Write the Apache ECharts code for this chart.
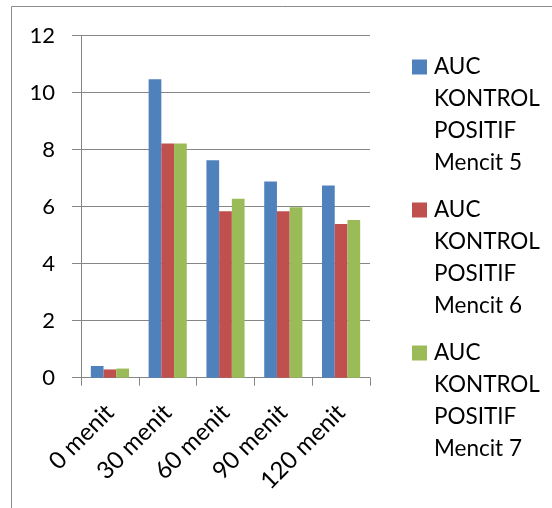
<!DOCTYPE html>
<html>
<head>
<meta charset="utf-8">
<script src="https://cdn.jsdelivr.net/npm/echarts@6/dist/echarts.min.js"></script>
<style>html,body{margin:0;padding:0;background:#fff}#c{width:552px;height:508px}</style>
</head>
<body>
<div id="c"></div>
<script>
var categories = ['0 menit', '30 menit', '60 menit', '90 menit', '120 menit'];
var seriesNames = ['AUC KONTROL POSITIF Mencit 5', 'AUC KONTROL POSITIF Mencit 6', 'AUC KONTROL POSITIF Mencit 7'];
var mencit5 = [0.41, 10.47, 7.63, 6.88, 6.74];
var mencit6 = [0.29, 8.22, 5.84, 5.84, 5.39];
var mencit7 = [0.32, 8.22, 6.28, 5.98, 5.53];
var yTicks = [0, 2, 4, 6, 8, 10, 12];
var colors = ['#4F81BD', '#C0504D', '#9BBB59'];

var FONT = 'Lato';
var chart = echarts.init(document.getElementById('c'), null, {renderer: 'canvas'});
var legendIcon = 'path://M0,0h15M0,8.5h15v15h-15zM0,128h15';
var dataSets = [mencit5, mencit6, mencit7];
chart.setOption({
  animation: false,
  backgroundColor: '#fff',
  textStyle: {fontFamily: FONT},
  graphic: [{
    type: 'rect', silent: true,
    shape: {x: 11.5, y: 6.5, width: 700, height: 700},
    style: {fill: 'none', stroke: '#8c8c8c', lineWidth: 1}
  }],
  grid: {left: 81, right: 182, top: 35.7, bottom: 130.3, containLabel: false},
  legend: {
    orient: 'vertical',
    left: 412, top: 51, padding: 0,
    itemWidth: 15, itemHeight: 128, itemGap: 15,
    icon: legendIcon,
    data: seriesNames,
    formatter: function (n) { return n.replace('AUC ', 'AUC\n').replace('KONTROL ', 'KONTROL\n').replace('POSITIF ', 'POSITIF\n'); },
    textStyle: {fontFamily: FONT, fontSize: 22.5, lineHeight: 32, color: '#000', padding: [0, 0, 0, 2]}
  },
  xAxis: {
    type: 'category',
    data: categories,
    axisLine: {lineStyle: {color: '#868686', width: 1}},
    axisTick: {show: true, length: 8, lineStyle: {color: '#868686'}},
    axisLabel: {rotate: 45, margin: 31, verticalAlign: 'middle', padding: [8, 0, 0, 0], fontSize: 24, color: '#000', fontFamily: FONT, interval: 0}
  },
  yAxis: {
    type: 'value',
    min: yTicks[0], max: yTicks[yTicks.length - 1], interval: 2,
    axisLine: {show: true, lineStyle: {color: '#868686', width: 1}},
    axisTick: {show: true, length: 9, lineStyle: {color: '#868686'}},
    splitLine: {show: true, lineStyle: {color: '#868686', width: 1}},
    axisLabel: {margin: 26, fontSize: 22, color: '#000', fontFamily: FONT}
  },
  series: dataSets.map(function (d, i) {
    return {
      name: seriesNames[i], type: 'bar', data: d,
      barGap: '0%', barCategoryGap: '34%',
      itemStyle: {color: colors[i]}
    };
  })
});
</script>
</body>
</html>
